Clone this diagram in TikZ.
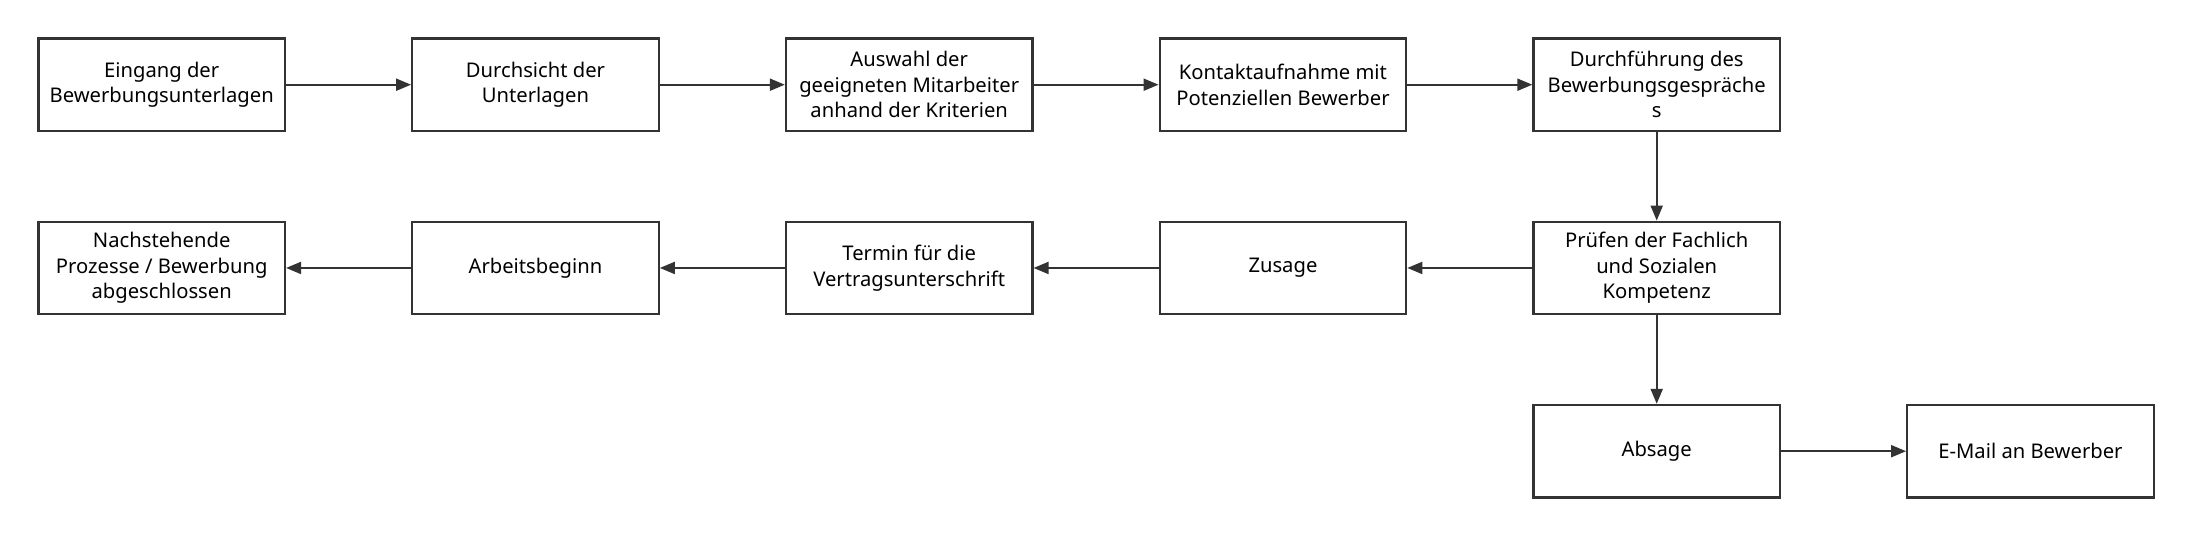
\documentclass[tikz,border=0pt]{standalone}
\usepackage{fontspec}
\setmainfont{Noto Sans}
\usetikzlibrary{positioning,arrows.meta}

\begin{document}
\begin{tikzpicture}[
  schritt/.style={draw=black!80,line width=0.045cm,minimum width=4.93cm,minimum height=1.85cm,
    align=center,inner sep=0pt,font=\fontsize{11.5}{14.5}\selectfont},
  pfeil/.style={-{Triangle[length=0.3cm,width=0.24cm]},line width=0.04cm,draw=black!80},
  node distance=1.77cm and 2.5cm
]
\useasboundingbox (0,0) rectangle (43.9,-10.76);

%oben
\node[schritt] (eingang) at (3.234,-1.694) {Eingang der\\Bewerbungsunterlagen};
\node[schritt,right=of eingang] (durchsicht) {Durchsicht der\\Unterlagen};
\node[schritt,right=of durchsicht] (auswahl) {Auswahl der\\geeigneten Mitarbeiter\\anhand der Kriterien};
\node[schritt,right=of auswahl] (kontakt) {Kontaktaufnahme mit\\Potenziellen Bewerber};
\node[schritt,right=of kontakt] (gespraech) {Durchführung des\\Bewerbungsgespräche\\s};
%mitte
\node[schritt,below=of gespraech] (pruefen) {Prüfen der Fachlich\\und Sozialen\\Kompetenz};
\node[schritt,left=of pruefen] (zusage) {Zusage};
\node[schritt,left=of zusage] (termin) {Termin für die\\Vertragsunterschrift};
\node[schritt,left=of termin] (beginn) {Arbeitsbeginn};
\node[schritt,left=of beginn] (ende) {Nachstehende\\Prozesse / Bewerbung\\abgeschlossen};
%unten
\node[schritt,below=of pruefen] (absage) {Absage};
\node[schritt,right=of absage] (email) {E-Mail an Bewerber};

\draw[pfeil] (eingang) -- (durchsicht);
\draw[pfeil] (durchsicht) -- (auswahl);
\draw[pfeil] (auswahl) -- (kontakt);
\draw[pfeil] (kontakt) -- (gespraech);
\draw[pfeil] (gespraech) -- (pruefen);
\draw[pfeil] (pruefen) -- (zusage);
\draw[pfeil] (zusage) -- (termin);
\draw[pfeil] (termin) -- (beginn);
\draw[pfeil] (beginn) -- (ende);
\draw[pfeil] (pruefen) -- (absage);
\draw[pfeil] (absage) -- (email);
\end{tikzpicture}
\end{document}
